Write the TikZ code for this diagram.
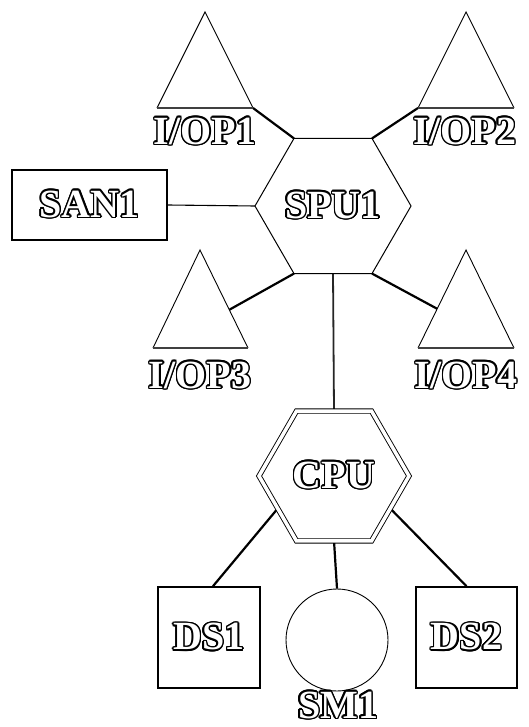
\documentclass[tikz,border=0pt]{standalone}
\usepackage{fontspec}
\setmainfont{Liberation Serif}
\usepackage{contour}
\contourlength{1.5pt}
\usetikzlibrary{shapes.geometric,backgrounds,calc}

% white letters with a black outline
\newcommand\olabel[1]{\contour{black}{#1}}

\tikzset{
  lbl/.style={font=\bfseries\fontsize{40}{40}\selectfont, text=white, inner sep=0pt},
  tri/.style={draw, line width=0.9pt, line join=miter},
  tribase/.style={draw, line width=1.6pt, black!75},
  box/.style={lbl, draw, line width=1.6pt, text=white},
  hexa/.style={lbl, draw, regular polygon, regular polygon sides=6, inner sep=0pt, outer sep=0pt},
  link/.style={line width=2.2pt},
  thinlink/.style={line width=1.1pt},
  midlink/.style={line width=1.8pt, black!85},
}

\begin{document}
\begin{tikzpicture}[x=1pt, y=-1pt]
\useasboundingbox (0,0) rectangle (529,727);

% central processing hexagons
\node[hexa, minimum size=152pt, line width=1pt] (spu) at (333,206) {\olabel{SPU1}};
\node[hexa, minimum size=150pt, line width=0.9pt, double, double distance=3.5pt] (cpu) at (334,476) {\olabel{CPU}};

% I/O processors (triangles)
\draw[tri] (157,108) -- (205,12) -- (253,108);
\draw[tribase] (157,108) -- (253,108);
\coordinate (t1r) at (253,108);
\node[lbl] (io1) at (205,132) {\olabel{I/OP1}};

\draw[tri] (418,108) -- (466,12) -- (514,108);
\draw[tribase] (418,108) -- (514,108);
\coordinate (t2l) at (418,108);
\node[lbl] (io2) at (465,132) {\olabel{I/OP2}};

\draw[tri] (153,348) -- (200,250) -- (248,348);
\draw[tribase] (153,348) -- (248,348);
\path (200,250) -- (248,348) coordinate[pos=0.61] (t3c);
\node[lbl] (io3) at (200,376) {\olabel{I/OP3}};

\draw[tri] (418,348) -- (466,250) -- (514,348);
\draw[tribase] (418,348) -- (514,348);
\path (466,250) -- (418,348) coordinate[pos=0.6] (t4c);
\node[lbl] (io4) at (466,376) {\olabel{I/OP4}};

% storage and memory
\node[box, minimum width=155pt, minimum height=70pt] (san) at (89.5,205) {\olabel{SAN1}};
\node[box, minimum width=102pt, minimum height=101pt] (ds1) at (209,637.5) {\olabel{DS1}};
\node[box, minimum width=101pt, minimum height=101pt] (ds2) at (466.5,637.5) {\olabel{DS2}};
\node[circle, draw, minimum size=102pt, inner sep=0pt, line width=0.9pt] (sm) at (337,640) {};
\node[lbl] (smlbl) at (338,706) {\olabel{SM1}};

% connectors
\begin{scope}[on background layer]
  \draw[link] (t1r) -- (spu.120);
  \draw[link] (t2l) -- (spu.60);
  \draw[thinlink] (san.east) -- (spu.180);
  \draw[link] (spu.240) -- (t3c);
  \draw[link] (spu.300) -- (t4c);
  \draw[midlink] (spu.south) -- (cpu.north);
  \draw[link] (cpu.210) -- ([xshift=4pt]ds1.north);
  \draw[link] (cpu.330) -- (ds2.north);
  \draw[link] (cpu.south) -- (sm.north);
\end{scope}
\end{tikzpicture}
\end{document}
